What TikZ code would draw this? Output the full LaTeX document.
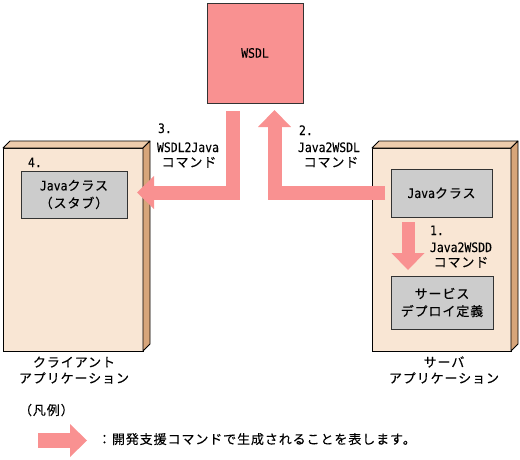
\documentclass[tikz,border=0pt]{standalone}
\usepackage{fontspec}
\newfontfamily\jp[LetterSpace=7,FakeBold=0.2]{Noto Sans CJK JP}
\newfontfamily\latf[FakeStretch=0.88,FakeBold=0.15]{DejaVu Sans Mono}
\newcommand\la[1]{{\latf\fontsize{13}{17}\selectfont #1}}
\usetikzlibrary{arrows.meta}
\definecolor{pinkc}{RGB}{249,145,145}
\definecolor{frontc}{RGB}{249,230,212}
\definecolor{sidec}{RGB}{215,165,122}
\definecolor{topc}{RGB}{238,204,172}
\definecolor{grayc}{RGB}{204,204,204}
\begin{document}
\begin{tikzpicture}[x=1pt,y=-1pt,
  txt/.style={inner sep=0pt, outer sep=0pt, font=\jp\fontsize{13}{17}\selectfont, text=black},
  frontbox/.style={draw=black, line width=0.8pt, fill=frontc, anchor=north west, inner sep=0pt, outer sep=0pt},
  face/.style={draw=black, line width=0.8pt, line join=round},
  classbox/.style={draw=black!80, line width=0.8pt, fill=grayc, anchor=north west, inner sep=0pt, outer sep=0pt, align=center, font=\jp\fontsize{13}{17.5}\selectfont},
  bigarrow/.style={draw=pinkc, line width=14pt, line join=miter, -{Triangle[length=17pt,width=33pt,line width=0pt,fill=pinkc]}},
]
\useasboundingbox (0,0) rectangle (520,459);

% WSDL
\node[draw=black!80, line width=0.8pt, fill=pinkc, minimum width=96pt, minimum height=100pt, anchor=north west, inner sep=0pt, outer sep=0pt, font=\jp\fontsize{13}{17}\selectfont] (wsdl) at (207,3) {\la{WSDL}};

% client application frame
\node[frontbox, minimum width=140pt, minimum height=203pt] (client) at (3,148) {};
\draw[face, fill=topc] (client.north west) -- ++(7,-7) -- ([shift={(7,-7)}]client.north east) -- (client.north east) -- cycle;
\draw[face, fill=sidec] (client.north east) -- ++(7,-7) -- ([shift={(7,-7)}]client.south east) -- (client.south east) -- cycle;

% server application frame
\node[frontbox, minimum width=139pt, minimum height=203pt] (server) at (372,148) {};
\draw[face, fill=topc] (server.north west) -- ++(7,-7) -- ([shift={(7,-7)}]server.north east) -- (server.north east) -- cycle;
\draw[face, fill=sidec] (server.north east) -- ++(7,-7) -- ([shift={(7,-7)}]server.south east) -- (server.south east) -- cycle;

% inner boxes
\node[classbox, minimum width=106pt, minimum height=47pt] (stub) at (21,171) {\la{Java}クラス\\（スタブ）};
\node[classbox, minimum width=101pt, minimum height=48pt] (jcls) at (391,169) {\la{Java}クラス};
\node[classbox, minimum width=102pt, minimum height=53pt] (svc) at (391,276) {サービス\\デプロイ定義};

% arrows
\draw[bigarrow] ([xshift=25.5pt,yshift=-8pt]wsdl.south west) |- ([xshift=10pt,yshift=2pt]stub.east);
\draw[bigarrow] ([xshift=-6pt]jcls.west) -| ([xshift=67.5pt,yshift=-7pt]wsdl.south west);
\draw[bigarrow, line width=13pt] ([xshift=17pt,yshift=-5pt]jcls.south west) -- ([xshift=17pt,yshift=6pt]svc.north west);

% labels
\node[txt, anchor=base west] (n3) at (158,133) {\la{3.}};
\node[txt, anchor=base] (c3a) at (188,152) {\la{WSDL2Java}};
\node[txt, anchor=base] (c3b) at (189,167) {コマンド};
\node[txt, anchor=base west] (n2) at (299,135) {\la{2.}};
\node[txt, anchor=base] (c2a) at (329,152) {\la{Java2WSDL}};
\node[txt, anchor=base] (c2b) at (331,167) {コマンド};
\node[txt, anchor=base west] (n1) at (430,235) {\la{1.}};
\node[txt, anchor=base] (c1a) at (461,252) {\la{Java2WSDD}};
\node[txt, anchor=base] (c1b) at (461,267) {コマンド};
\node[txt, anchor=base west] (n4) at (28,167) {\la{4.}};

\node[txt, anchor=base] (cl1) at (74,367) {クライアント};
\node[txt, anchor=base] (cl2) at (74,383) {アプリケーション};
\node[txt, anchor=base] (sv1) at (444,367) {サーバ};
\node[txt, anchor=base] (sv2) at (444,383) {アプリケーション};

% legend
\node[txt, anchor=base west] (lgt) at (19,415) {（凡例）};
\coordinate (lgA) at (38,440.5);
\coordinate (lgB) at (87,440.5);
\draw[bigarrow, line width=15pt] (lgA) -- (lgB);
\node[txt, anchor=base west] (lgd) at (98,444) {：開発支援コマンドで生成されることを表します。};
\end{tikzpicture}
\end{document}
